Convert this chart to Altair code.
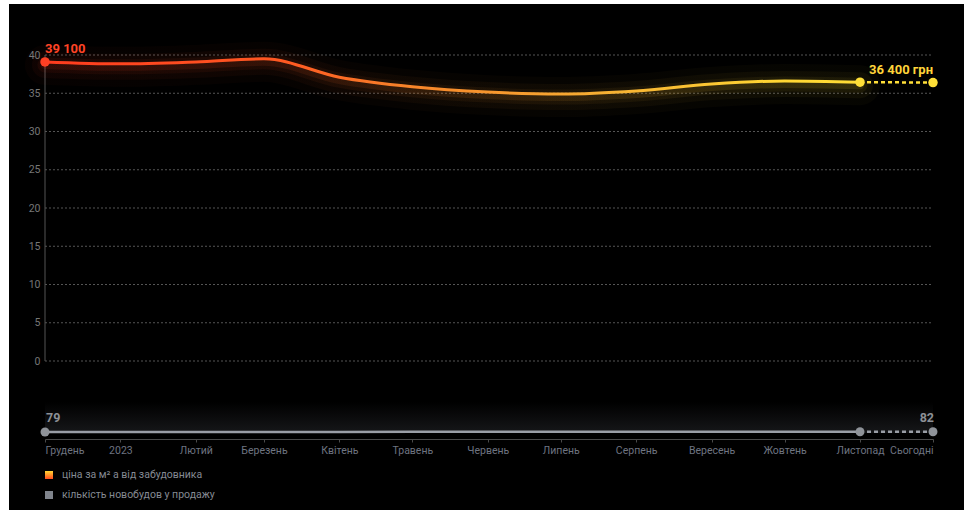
import altair as alt
import pandas as pd

# ---- data ----
months = ["2022-12-01", "2023-01-01", "2023-02-01", "2023-03-01", "2023-04-01",
          "2023-05-01", "2023-06-01", "2023-07-01", "2023-08-01", "2023-09-01",
          "2023-10-01", "2023-11-01", "2023-12-01"]
tick_labels = ["Грудень", "2023", "Лютий", "Березень", "Квітень", "Травень", "Червень",
               "Липень", "Серпень", "Вересень", "Жовтень", "Листопад", "Сьогодні"]
price = [39.1, 38.85, 39.1, 39.5, 37.1, 35.85, 35.15, 34.9, 35.3, 36.2, 36.6, 36.45, 36.4]  # thousand UAH per m²
count = [79, 79, 80, 80, 80, 81, 81, 81, 81, 82, 82, 82, 82]
y_ticks = [0, 5, 10, 15, 20, 25, 30, 35, 40]
legend_labels = ["ціна за м² а від забудовника", "кількість новобудов у продажу"]

W, H = 888, 399
PAD = {"left": 45, "top": 40, "right": 31, "bottom": 71}
FONT = "Roboto"

df = pd.DataFrame({"date": pd.to_datetime(months), "price": price, "count": count})
n = len(df)
solid = df.iloc[: n - 1]
dashed = df.iloc[n - 2:]
ends = df.iloc[[0, n - 1]].copy()
ends["plabel"] = [f"{int(round(ends['price'].iloc[0] * 1000)):,}".replace(",", " "),
                  f"{int(round(ends['price'].iloc[1] * 1000)):,}".replace(",", " ") + " грн"]
ends["clabel"] = [str(c) for c in ends["count"]]
dots_price = df.iloc[[n - 2, n - 1]]
dots_count = df.iloc[[0, n - 2, n - 1]]

label_expr = "{" + ",".join(f"'{m}':'{t}'" for m, t in zip(months, tick_labels)) + "}"

xscale = alt.Scale(domain=[months[0], months[-1]], nice=False)
xaxis = alt.Axis(values=[pd.Timestamp(m).isoformat() for m in months],
                 labelExpr=f"{label_expr}[timeFormat(datum.value, '%Y-%m-%d')]",
                 title=None, grid=False, domainColor="#4a4a4a", tickColor="#4a4a4a",
                 tickSize=3, labelColor="#6e7480", labelFontSize=10.5, labelFont=FONT,
                 labelPadding=3, labelFlush=True, labelOverlap=False, zindex=2)


def X():
    return alt.X("date:T", scale=xscale, axis=xaxis)


pscale = alt.Scale(domain=[-10.196, 41.961], nice=False, zero=False)
paxis = alt.Axis(values=y_ticks, title=None, domain=False, ticks=False, grid=False,
                 labelColor="#777777", labelFontSize=10.5, labelFont=FONT, labelPadding=5,
                 zindex=2)


def YP(field):
    return alt.Y(field, scale=pscale, axis=paxis)


cscale = alt.Scale(domain=[0, 4500], nice=False, zero=False)


def YC(field):
    return alt.Y(field, scale=cscale, axis=None)


grad = alt.Gradient(gradient="linear", x1=0, x2=1, y1=0, y2=0,
                    stops=[alt.GradientStop(color="#ff3b1e", offset=0),
                           alt.GradientStop(color="#ff5a22", offset=0.3),
                           alt.GradientStop(color="#f7852a", offset=0.45),
                           alt.GradientStop(color="#f7b233", offset=0.7),
                           alt.GradientStop(color="#ffd633", offset=0.9),
                           alt.GradientStop(color="#ffdc36", offset=1)])

one = pd.DataFrame({"a": [0]})

# background (black panel with a thin white strip at left/top)
bg = alt.Chart(one).mark_rect(color="#000000").encode(
    x=alt.value(-36), x2=alt.value(W + 40), y=alt.value(-36), y2=alt.value(H + 80))

band = alt.Chart(one).mark_rect(
    fill=alt.Gradient(gradient="linear", x1=0, x2=0, y1=0, y2=1,
                      stops=[alt.GradientStop(color="#000000", offset=0),
                             alt.GradientStop(color="#161719", offset=1)])).encode(
    x=alt.value(0), x2=alt.value(W), y=alt.value(362), y2=alt.value(393))

# price layers
grid = alt.Chart(pd.DataFrame({"v": y_ticks})).mark_rule(
    color="#555555", strokeDash=[2, 2], strokeWidth=1).encode(
    y=YP("v:Q"), x=alt.value(0), x2=alt.value(W))
yline = alt.Chart(pd.DataFrame({"a": [y_ticks[0]], "b": [y_ticks[-1]]})).mark_rule(
    color="#555555").encode(x=alt.value(0), y=YP("a:Q"), y2="b:Q")

glows = []
for sw, op in [(40, 0.025), (26, 0.04), (15, 0.06), (8, 0.1)]:
    glows.append(alt.Chart(solid).mark_line(stroke=grad, strokeWidth=sw, opacity=op,
                                             interpolate="monotone", yOffset=3,
                                             strokeCap="round").encode(
        x=X(), y=YP("price:Q")))
pline = alt.Chart(solid).mark_line(stroke=grad, strokeWidth=3, interpolate="monotone").encode(
    x=X(), y=YP("price:Q"))
pdash = alt.Chart(dashed).mark_line(color="#ffde38", strokeWidth=2.5, strokeDash=[4, 3]).encode(
    x=X(), y=YP("price:Q"))
pdot0 = alt.Chart(df.iloc[[0]]).mark_circle(color="#ff4024", opacity=1, size=90).encode(
    x=X(), y=YP("price:Q"))
pdots = alt.Chart(dots_price).mark_circle(color="#ffdf38", opacity=1, size=90).encode(
    x=X(), y=YP("price:Q"))
ptext_l = alt.Chart(ends.iloc[[0]]).mark_text(align="left", dy=-13, dx=0, fontSize=13,
                                               fontWeight="bold", font=FONT, color="#ff4426").encode(
    x=X(), y=YP("price:Q"), text="plabel:N")
ptext_r = alt.Chart(ends.iloc[[1]]).mark_text(align="right", dy=-13, dx=0, fontSize=13,
                                               fontWeight="bold", font=FONT, color="#ffd43a").encode(
    x=X(), y=YP("price:Q"), text="plabel:N")

price_layer = alt.layer(grid, yline, *glows, pline, pdash, pdot0, pdots, ptext_l, ptext_r)

# count layers
cline = alt.Chart(solid).mark_line(color="#9a9ea6", strokeWidth=2.5).encode(
    x=X(), y=YC("count:Q"))
cdash = alt.Chart(dashed).mark_line(color="#9a9ea6", strokeWidth=2.5, strokeDash=[4, 3]).encode(
    x=X(), y=YC("count:Q"))
cdots = alt.Chart(dots_count).mark_circle(color="#8f9399", opacity=1, size=80).encode(
    x=X(), y=YC("count:Q"))
ctext_l = alt.Chart(ends.iloc[[0]]).mark_text(align="left", dy=-14, dx=1, fontSize=12.5,
                                               fontWeight="bold", font=FONT, color="#8c9096").encode(
    x=X(), y=YC("count:Q"), text="clabel:N")
ctext_r = alt.Chart(ends.iloc[[1]]).mark_text(align="right", dy=-14, dx=1, fontSize=12.5,
                                               fontWeight="bold", font=FONT, color="#8c9096").encode(
    x=X(), y=YC("count:Q"), text="clabel:N")
count_layer = alt.layer(cline, cdash, cdots, ctext_l, ctext_r)

# legend
leg_sq1 = alt.Chart(one).mark_rect(
    fill=alt.Gradient(gradient="linear", x1=0, x2=0, y1=0, y2=1,
                      stops=[alt.GradientStop(color="#ffd633", offset=0),
                             alt.GradientStop(color="#ff4a1e", offset=1)])).encode(
    x=alt.value(0), x2=alt.value(8), y=alt.value(431), y2=alt.value(439))
leg_sq2 = alt.Chart(one).mark_rect(color="#80848c").encode(
    x=alt.value(0), x2=alt.value(8), y=alt.value(451), y2=alt.value(459))
leg_t1 = alt.Chart(pd.DataFrame({"t": [legend_labels[0]]})).mark_text(
    align="left", baseline="middle", fontSize=10.5, font=FONT, color="#858a93").encode(
    x=alt.value(17), y=alt.value(435), text="t:N")
leg_t2 = alt.Chart(pd.DataFrame({"t": [legend_labels[1]]})).mark_text(
    align="left", baseline="middle", fontSize=10.5, font=FONT, color="#858a93").encode(
    x=alt.value(17), y=alt.value(455), text="t:N")

chart = alt.layer(bg, band, price_layer, count_layer, leg_sq1, leg_sq2, leg_t1, leg_t2).resolve_scale(
    y="independent").properties(
    width=W, height=H, padding=PAD, background="#ffffff",
    autosize=alt.AutoSizeParams(type="none")
).configure_view(stroke=None, fill=None)

chart.save("out.html", embed_options={"renderer": "svg", "actions": False})
